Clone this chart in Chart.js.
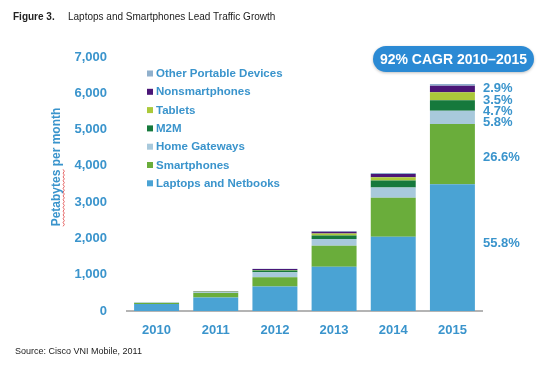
<!DOCTYPE html>
<html>
<head>
<meta charset="utf-8">
<script src="https://cdn.jsdelivr.net/npm/chart.js@4.4.1/dist/chart.umd.min.js"></script>
<style>
  html, body { margin: 0; padding: 0; background: #fff; }
  #wrap { width: 550px; height: 366px; }
</style>
</head>
<body>
<div id="wrap"><canvas id="traffic" width="550" height="366"></canvas></div>
<script>
// values in petabytes per month
var years = ['2010', '2011', '2012', '2013', '2014', '2015'];
var laptops = [190, 370, 675, 1220, 2045, 3490];
var smartphones = [30, 125, 255, 578, 1075, 1664];
var homeGateways = [8, 25, 138, 185, 285, 363];
var m2m = [3, 10, 50, 100, 190, 294];
var tablets = [2, 6, 15, 55, 90, 219];
var nonsmartphones = [3, 7, 22, 45, 92, 181];
var otherPortable = [1, 3, 8, 20, 29, 44];
var shares2015 = ['55.8%', '26.6%', '5.8%', '4.7%', '3.5%', '2.9%'];
var yTicks = [0, 1000, 2000, 3000, 4000, 5000, 6000, 7000];

var blue = '#3a94cc';
var font = "'Liberation Sans', Arial, sans-serif";
Chart.defaults.font.family = font;

var trafficData = {
    labels: years,
    datasets: [
        { label: 'Laptops and Netbooks', data: laptops, backgroundColor: '#4aa3d4' },
        { label: 'Smartphones', data: smartphones, backgroundColor: '#6aad3b' },
        { label: 'Home Gateways', data: homeGateways, backgroundColor: '#a8c9dc' },
        { label: 'M2M', data: m2m, backgroundColor: '#16793c' },
        { label: 'Tablets', data: tablets, backgroundColor: '#abc93a' },
        { label: 'Nonsmartphones', data: nonsmartphones, backgroundColor: '#4a1677' },
        { label: 'Other Portable Devices', data: otherPortable, backgroundColor: '#90b0cc' }
    ]
}

var decor = {
    id: 'decor',
    afterDraw: function (chart) {
        var c = chart.ctx;
        var area = chart.chartArea;
        c.save();

        // heading
        c.fillStyle = '#222';
        c.textBaseline = 'middle';
        c.textAlign = 'left';
        c.font = 'bold 10px ' + font;
        c.fillText('Figure 3.', 13, 17);
        c.font = '10px ' + font;
        c.fillText('Laptops and Smartphones Lead Traffic Growth', 68, 17);

        // source
        c.font = '9px ' + font;
        c.fillText('Source: Cisco VNI Mobile, 2011', 15, 352);

        // CAGR badge
        var bx = 373, by = 46, bw = 161, bh = 26, r = 13;
        c.shadowColor = 'rgba(0,0,0,0.25)';
        c.shadowBlur = 3;
        c.shadowOffsetY = 1;
        c.fillStyle = '#2b8ad4';
        c.beginPath();
        c.roundRect(bx, by, bw, bh, r);
        c.fill();
        c.shadowColor = 'transparent';
        c.fillStyle = '#fff';
        c.textAlign = 'center';
        c.font = 'bold 14px ' + font;
        c.fillText('92% CAGR 2010\u20132015', bx + bw / 2, by + bh / 2 + 1);

        // y axis title
        c.save();
        c.translate(57, 167);
        c.rotate(-Math.PI / 2);
        c.fillStyle = blue;
        c.font = 'bold 12px ' + font;
        c.textAlign = 'center';
        c.fillText('Petabytes per month', 0, 0);
        // spellcheck squiggle under "Petabytes"
        var w = c.measureText('Petabytes per month').width;
        c.strokeStyle = '#e04040';
        c.lineWidth = 0.8;
        c.beginPath();
        var sx = -w / 2;
        for (var i = 0; i <= 30; i++) {
            c.lineTo(sx + i * 1.9, 6.5 + (i % 2 ? 0.8 : -0.4));
        }
        c.stroke();
        c.restore();

        // legend, drawn from the datasets, top to bottom in reverse stack order
        c.font = 'bold 11.5px ' + font;
        c.textAlign = 'left';
        var sets = chart.data.datasets.slice().reverse();
        sets.forEach(function (ds, i) {
            var ly = 73.5 + i * 18.3;
            c.fillStyle = ds.backgroundColor;
            c.fillRect(147, ly - 3, 6, 6);
            c.fillStyle = blue;
            c.fillText(ds.label, 156, ly + 0.5);
        });

        // 2015 share labels
        c.font = 'bold 13px ' + font;
        c.fillStyle = blue;
        var last = years.length - 1;
        var x = area.right + 1;
        var bars = chart.data.datasets.map(function (ds, k) {
            return chart.getDatasetMeta(k).data[last];
        });
        var top = bars[bars.length - 1].y;
        c.fillText(shares2015[0], x, (bars[0].y + bars[0].base) / 2 - 4);
        c.fillText(shares2015[1], x, (bars[1].y + bars[1].base) / 2 + 3);
        for (var j = 2; j < shares2015.length; j++) {
            c.fillText(shares2015[j], x, top + 4.8 + (shares2015.length - 1 - j) * 11.3);
        }
        c.restore();
    }
}

var ctx = document.getElementById('traffic').getContext('2d');

var myChart = new Chart(ctx, {
    type: 'bar',
    data: trafficData,
    options: {
        responsive: false,
        animation: false,
        layout: {
            padding: { top: 57, right: 68, left: 0, bottom: 0 }
        },
        datasets: {
            bar: {
                categoryPercentage: 1,
                barPercentage: 0.76,
                borderWidth: 0
            }
        },
        plugins: {
            legend: { display: false },
            tooltip: { enabled: false }
        },
        scales: {
            x: {
                stacked: true,
                grid: { display: false },
                border: { color: '#b4b4b4', width: 2 },
                ticks: {
                    color: blue,
                    font: { size: 13, weight: 'bold' },
                    padding: 4
                },
                afterFit: function (scale) { scale.height = 55; }
            },
            y: {
                stacked: true,
                min: 0,
                max: 7000,
                grid: { display: false },
                border: { display: false },
                afterBuildTicks: function (scale) {
                    scale.ticks = yTicks.map(function (v) { return { value: v }; });
                },
                ticks: {
                    color: blue,
                    font: { size: 13, weight: 'bold' },
                    padding: 12
                },
                afterFit: function (scale) { scale.width = 127; }
            }
        }
    },
    plugins: [decor]
})
</script>
</body>
</html>
